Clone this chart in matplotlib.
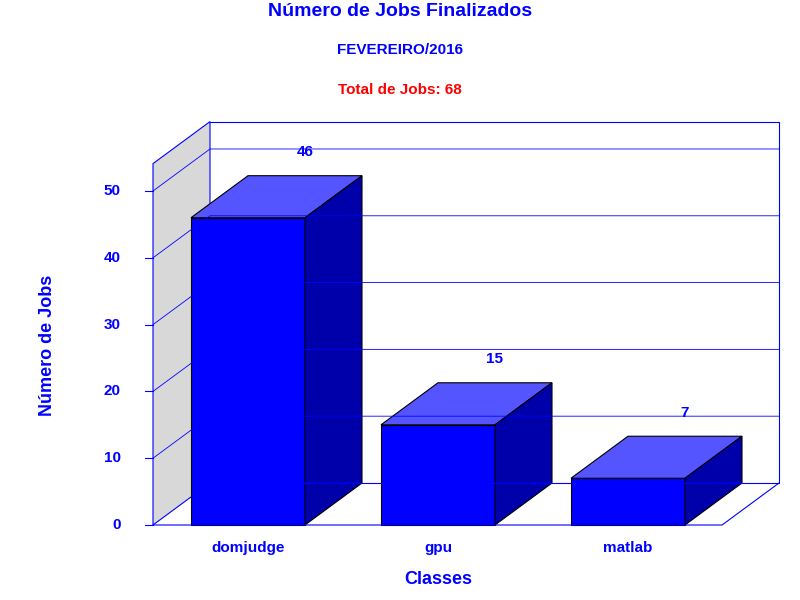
import matplotlib
matplotlib.use("Agg")
import matplotlib.pyplot as plt
from matplotlib.patches import Polygon

categories = ["domjudge", "gpu", "matlab"]
values = [46, 15, 7]
yticks = [0, 10, 20, 30, 40, 50]

fig = plt.figure(figsize=(8, 6), dpi=100)
ax = fig.add_axes([0, 0, 1, 1])
ax.set_xlim(-248/190, (800-248)/190)
ax.set_ylim(-75/6.68, 525/6.68)
ax.axis("off")

dx, dy = 0.3, 6.29
top = 54.1
L, R = -0.5, 2.495
blue = "#0000FF"

# left wall
ax.add_patch(Polygon([(L, 0), (L+dx, dy), (L+dx, top+dy), (L, top)], closed=True,
                     fc="#D8D8D8", ec=blue, lw=0.8))
# back wall outline
ax.plot([L+dx, R+dx, R+dx, L+dx], [top+dy, top+dy, dy, dy], color=blue, lw=0.8)
ax.plot([L, R, R+dx], [0, 0, dy], color=blue, lw=0.8)
for t in yticks[1:]:
    ax.plot([L, L+dx, R+dx], [t, t+dy, t+dy], color=blue, lw=0.6)
for t in yticks:
    ax.plot([L-0.04, L], [t, t], color=blue, lw=0.8)
    ax.text(L-0.17, t, str(t), ha="right", va="center", color=blue,
            fontsize=11, fontweight="bold", family="Liberation Sans")

w = 0.6
for i, (c, v) in enumerate(zip(categories, values)):
    x0, x1 = i - w/2, i + w/2
    ax.add_patch(Polygon([(x0, 0), (x1, 0), (x1, v), (x0, v)], fc="#0000FF", ec="black", lw=0.8))
    ax.add_patch(Polygon([(x0, v), (x1, v), (x1+dx, v+dy), (x0+dx, v+dy)], fc="#5555FF", ec="black", lw=0.8))
    ax.add_patch(Polygon([(x1, 0), (x1+dx, dy), (x1+dx, v+dy), (x1, v)], fc="#0000AA", ec="black", lw=0.8))
    ax.text(i + dx, v + dy + 3.5, str(v), ha="center", va="center", color=blue,
            fontsize=11, fontweight="bold", family="Liberation Sans")
    ax.text(i, -3.4, c, ha="center", va="center", color=blue,
            fontsize=11, fontweight="bold", family="Liberation Sans")

fig.text(0.5, 1-12/600, "Número de Jobs Finalizados", ha="center", va="center", color=blue,
         fontsize=14, fontweight="bold", family="Liberation Sans")
fig.text(0.5, 1-50/600, "FEVEREIRO/2016", ha="center", va="center", color=blue,
         fontsize=11, fontweight="bold", family="Liberation Sans")
fig.text(0.5, 1-90/600, "Total de Jobs: 68", ha="center", va="center", color="red",
         fontsize=11, fontweight="bold", family="Liberation Sans")
fig.text(438/800, 1-580/600, "Classes", ha="center", va="center", color=blue,
         fontsize=13, fontweight="bold", family="Liberation Sans")
fig.text(48/800, 1-345/600, "Número de Jobs", ha="center", va="center", color=blue, rotation=90,
         fontsize=13, fontweight="bold", family="Liberation Sans")

fig.savefig("out.png", dpi=100)
